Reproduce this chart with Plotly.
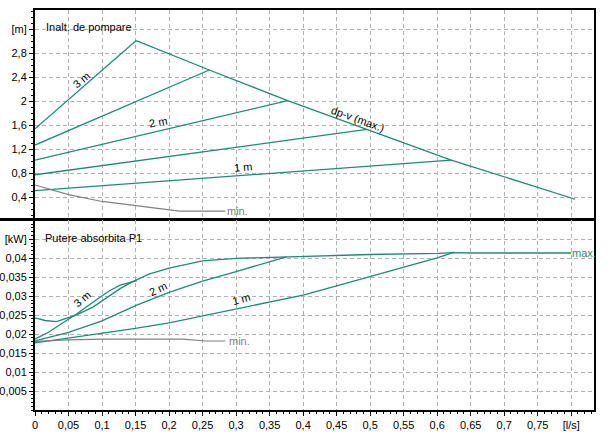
import plotly.graph_objects as go
from plotly.subplots import make_subplots

# ---------------- data ----------------
# Top panel: head H [m] vs flow Q [l/s]
q_3m = [0, 0.151]
h_3m = [1.54, 3.01]
q_l2 = [0, 0.26]
h_l2 = [1.27, 2.52]
q_2m = [0, 0.377]
h_2m = [1.02, 2.01]
q_l4 = [0, 0.495]
h_l4 = [0.775, 1.53]
q_1m = [0, 0.621]
h_1m = [0.51, 1.02]
q_dpv = [0.151, 0.26, 0.377, 0.495, 0.621, 0.806]
h_dpv = [3.01, 2.52, 2.01, 1.53, 1.02, 0.367]
q_hmin = [0, 0.05, 0.1, 0.151, 0.2, 0.216, 0.284]
h_hmin = [0.605, 0.445, 0.33, 0.255, 0.19, 0.17, 0.17]

# Bottom panel: power P1 [kW] vs flow Q [l/s]
q_pmax = [0, 0.015, 0.032, 0.045, 0.062, 0.087, 0.127, 0.145, 0.17, 0.2, 0.25,
          0.3, 0.35, 0.4, 0.5, 0.6, 0.625, 0.65, 0.8]
p_pmax = [0.0243, 0.0236, 0.0233, 0.0240, 0.0251, 0.0272, 0.0320, 0.0338, 0.0358,
          0.0374, 0.0393, 0.0400, 0.0403, 0.0406, 0.0410, 0.0413, 0.0415, 0.0414, 0.0414]
q_p3m = [0, 0.02, 0.047, 0.062, 0.087, 0.11, 0.127, 0.152]
p_p3m = [0.0187, 0.0205, 0.0236, 0.0253, 0.0285, 0.0313, 0.0329, 0.0341]
q_p2m = [0, 0.05, 0.1, 0.15, 0.2, 0.25, 0.3, 0.35, 0.375]
p_p2m = [0.0182, 0.0205, 0.0235, 0.0275, 0.0310, 0.0340, 0.0365, 0.0390, 0.0404]
q_p1m = [0, 0.05, 0.1, 0.15, 0.2, 0.25, 0.3, 0.35, 0.4, 0.45, 0.5, 0.55, 0.6, 0.625]
p_p1m = [0.0177, 0.0190, 0.0203, 0.0215, 0.0230, 0.0248, 0.0267, 0.0285, 0.0303,
         0.0327, 0.0352, 0.0377, 0.0401, 0.0416]
q_pmin = [0, 0.05, 0.1, 0.22, 0.255, 0.284]
p_pmin = [0.0181, 0.0185, 0.0187, 0.0187, 0.0182, 0.0182]

x_ticks = [0, 0.05, 0.1, 0.15, 0.2, 0.25, 0.3, 0.35, 0.4, 0.45, 0.5, 0.55, 0.6,
           0.65, 0.7, 0.75, 0.8]
x_labels = ["0", "0,05", "0,1", "0,15", "0,2", "0,25", "0,3", "0,35", "0,4", "0,45",
            "0,5", "0,55", "0,6", "0,65", "0,7", "0,75", "[l/s]"]
h_ticks = [0.4, 0.8, 1.2, 1.6, 2.0, 2.4, 2.8, 3.2]
h_labels = ["0,4", "0,8", "1,2", "1,6", "2", "2,4", "2,8", "[m]"]
p_ticks = [0.005, 0.01, 0.015, 0.02, 0.025, 0.03, 0.035, 0.04, 0.045]
p_labels = ["0,005", "0,01", "0,015", "0,02", "0,025", "0,03", "0,035", "0,04", "[kW]"]

TEAL = "#1b8c78"
GRAY = "#808080"
FONT = "Liberation Sans, Arial, sans-serif"

fig = make_subplots(rows=2, cols=1, shared_xaxes=False, vertical_spacing=0.0025)

def add(q, v, color, row, width=1.3):
    fig.add_trace(go.Scatter(x=q, y=v, mode="lines",
                             line=dict(color=color, width=width),
                             showlegend=False, hoverinfo="skip"), row=row, col=1)

for q, h in [(q_3m, h_3m), (q_l2, h_l2), (q_2m, h_2m), (q_l4, h_l4), (q_1m, h_1m),
             (q_dpv, h_dpv)]:
    add(q, h, TEAL, 1)
add(q_hmin, h_hmin, GRAY, 1, 1.2)

for q, p in [(q_pmax, p_pmax), (q_p3m, p_p3m), (q_p2m, p_p2m), (q_p1m, p_p1m)]:
    add(q, p, TEAL, 2)
add(q_pmin, p_pmin, GRAY, 2, 1.2)

grid = dict(showgrid=True, gridcolor="#b0b0b0", griddash="4px,3px", gridwidth=1,
            zeroline=False, showline=True, linecolor="black", linewidth=2, mirror=True,
            automargin=False)

fig.update_xaxes(range=[0, 0.834], tickvals=x_ticks, **grid)
fig.update_xaxes(showticklabels=False, ticks="", row=1, col=1)
fig.update_xaxes(ticktext=x_labels, ticks="outside", ticklen=4, tickcolor="black",
                 minor=dict(dtick=0.01, tick0=0, ticks="outside", ticklen=2,
                            tickcolor="black", showgrid=False),
                 row=2, col=1)
fig.update_yaxes(range=[0.038, 3.52], tickvals=h_ticks, ticktext=h_labels,
                 ticks="outside", ticklen=4, tickcolor="black",
                 minor=dict(dtick=0.1, tick0=0, ticks="outside", ticklen=2,
                            tickcolor="black", showgrid=False),
                 row=1, col=1, **grid)
fig.update_yaxes(range=[0, 0.0501], tickvals=p_ticks, ticktext=p_labels,
                 ticks="outside", ticklen=4, tickcolor="black",
                 minor=dict(dtick=0.001, tick0=0, ticks="outside", ticklen=2,
                            tickcolor="black", showgrid=False),
                 row=2, col=1, **grid)
fig.update_layout(yaxis=dict(domain=[0.4775, 1.0]), yaxis2=dict(domain=[0.0, 0.475]))

ann = []
def label(x, y, text, xref, yref, angle=0, color="black", xanchor="center"):
    ann.append(dict(x=x, y=y, xref=xref, yref=yref, text=text, showarrow=False,
                    textangle=angle, xanchor=xanchor, yanchor="middle",
                    font=dict(family=FONT, size=11, color=color)))

label(0.0134, 3.243, "Inalt. de pompare", "x", "y", xanchor="left")
label(0.0687, 2.36, "3 m", "x", "y", -40)
label(0.1836, 1.655, "2 m", "x", "y", -10)
label(0.3104, 0.905, "1 m", "x", "y", -5)
label(0.482, 1.705, "dp-v (max.)", "x", "y", 20)
label(0.2836, 0.172, "min.", "x", "y", color=GRAY, xanchor="left")

label(0.012, 0.0454, "Putere absorbita P1", "x2", "y2", xanchor="left")
label(0.0701, 0.0293, "3 m", "x2", "y2", -40)
label(0.1836, 0.0319, "2 m", "x2", "y2", -25)
label(0.3075, 0.0293, "1 m", "x2", "y2", -15)
label(0.2866, 0.01824, "min.", "x2", "y2", color=GRAY, xanchor="left")
label(0.798, 0.0415, "max.", "x2", "y2", color=TEAL, xanchor="left")

fig.update_layout(
    width=614, height=440,
    margin=dict(l=35, r=20, t=10, b=30),
    plot_bgcolor="white", paper_bgcolor="white",
    font=dict(family=FONT, size=11, color="black"),
    annotations=ann,
    shapes=[dict(type="line", xref="paper", yref="paper", x0=-35 / 559, x1=0,
                 y0=0.4763, y1=0.4763, line=dict(color="black", width=3))],
)

fig.write_html("out.html", config={"displayModeBar": False},
               post_script="document.body.style.margin='0';document.body.style.overflow='hidden';")
